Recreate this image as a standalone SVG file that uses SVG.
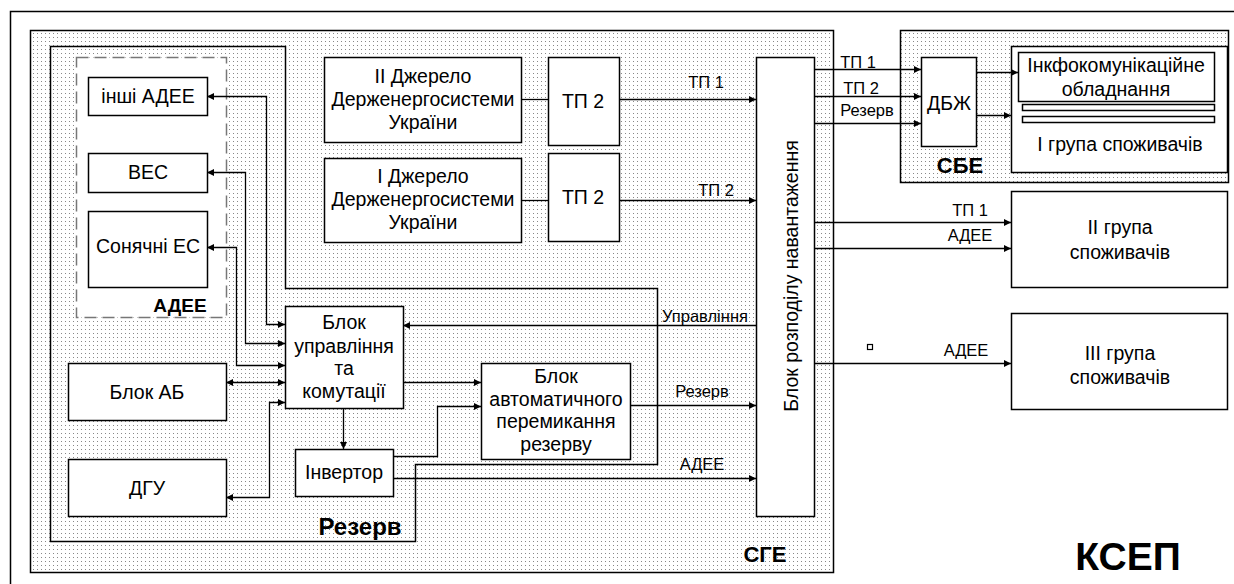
<svg xmlns="http://www.w3.org/2000/svg" width="1234" height="584" viewBox="0 0 1234 584">
<defs>
<pattern id="dots" width="4" height="4" patternUnits="userSpaceOnUse"><rect width="4" height="4" fill="#fff"/><rect x="1" y="1" width="1" height="1" fill="#888"/></pattern>
<marker id="arr" viewBox="0 0 10 10" refX="10" refY="5" markerWidth="11" markerHeight="7" markerUnits="userSpaceOnUse" orient="auto-start-reverse"><path d="M0,0 L10,5 L0,10 z" fill="#000"/></marker>
<style>
text{font-family:"Liberation Sans",Arial,sans-serif;fill:#000}
.box{fill:#fff;stroke:#000;stroke-width:1.5}
.t{font-size:19.5px;text-anchor:middle}
.l{font-size:16.5px;text-anchor:middle}
.b{font-weight:bold}
.c{fill:none;stroke:#000;stroke-width:1.3}
.a{marker-end:url(#arr)}
.aa{marker-start:url(#arr);marker-end:url(#arr)}
</style>
</defs>
<rect x="10.5" y="11.5" width="1240" height="590" fill="#fff" stroke="#000" stroke-width="1.5"/>
<g id="sge">
<rect x="30.5" y="30.5" width="803" height="542" fill="url(#dots)" stroke="#000" stroke-width="1.5"/>
<text x="765" y="562" class="b" font-size="22" text-anchor="middle">СГЕ</text>
</g>
<g id="sbe">
<rect x="900.5" y="30.5" width="328" height="152" fill="url(#dots)" stroke="#000" stroke-width="1.5"/>
<text x="960" y="173" class="b" font-size="22" text-anchor="middle">СБЕ</text>
</g>
<g id="rezerv">
<path d="M50.5,46.5 H285.5 V288.5 H657.5 V464.5 H415.5 V541.5 H50.5 Z" fill="none" stroke="#000" stroke-width="1.5"/>
<text x="360" y="535" class="b" font-size="24" text-anchor="middle">Резерв</text>
</g>
<g id="adee">
<rect x="76.5" y="57.5" width="150" height="260" fill="#fff" stroke="#777" stroke-width="1.5" stroke-dasharray="12,6"/>
<text x="180" y="312" class="b" font-size="19" text-anchor="middle">АДЕЕ</text>
</g>
<g id="inshi"><rect class="box" x="88.5" y="77.5" width="119" height="38"/><text class="t" x="148" y="103">інші АДЕЕ</text></g>
<g id="ves"><rect class="box" x="88.5" y="153.5" width="119" height="39"/><text class="t" x="148" y="179">ВЕС</text></g>
<g id="sonyachni"><rect class="box" x="88.5" y="211.5" width="119" height="76"/><text class="t" x="148" y="253">Сонячні ЕС</text></g>
<g id="blok-ab"><rect class="box" x="68.5" y="363.5" width="158" height="57"/><text class="t" x="147" y="399">Блок АБ</text></g>
<g id="dgu"><rect class="box" x="68.5" y="459.5" width="158" height="57"/><text class="t" x="147" y="495">ДГУ</text></g>
<g id="dzherelo2"><rect class="box" x="324.5" y="57.5" width="197" height="85"/><text class="t" x="423" y="83">II Джерело</text><text class="t" x="423" y="106">Держенергосистеми</text><text class="t" x="423" y="129">України</text></g>
<g id="dzherelo1"><rect class="box" x="324.5" y="158.5" width="197" height="84"/><text class="t" x="423" y="183">I Джерело</text><text class="t" x="423" y="206">Держенергосистеми</text><text class="t" x="423" y="229">України</text></g>
<g id="tp2a"><rect class="box" x="548.5" y="57.5" width="71" height="88"/><text class="t" x="583" y="108" font-size="17">ТП 2</text></g>
<g id="tp2b"><rect class="box" x="548.5" y="153.5" width="71" height="88"/><text class="t" x="583" y="204" font-size="17">ТП 2</text></g>
<g id="upravl"><rect class="box" x="285.5" y="306.5" width="118" height="102"/><text class="t" x="344" y="329">Блок</text><text class="t" x="344" y="353">управління</text><text class="t" x="344" y="375">та</text><text class="t" x="344" y="398">комутації</text></g>
<g id="invertor"><rect class="box" x="295.5" y="449.5" width="98" height="47"/><text class="t" x="344" y="479">Інвертор</text></g>
<g id="avr"><rect class="box" x="481.5" y="363.5" width="149" height="96"/><text class="t" x="556" y="383">Блок</text><text class="t" x="556" y="406">автоматичного</text><text class="t" x="556" y="428">перемикання</text><text class="t" x="556" y="451">резерву</text></g>
<g id="rozpodil"><rect class="box" x="756.5" y="57.5" width="58" height="459"/><text class="t" x="798" y="276" transform="rotate(-90 798 276)">Блок розподілу навантаження</text></g>
<g id="dbzh"><rect class="box" x="921.5" y="57.5" width="55" height="89"/><text class="t" x="949" y="110" font-size="21">ДБЖ</text></g>
<g id="grupa1"><rect class="box" x="1011.5" y="46.5" width="216" height="126"/>
<rect class="box" x="1018.5" y="52.5" width="196" height="49"/><text class="t" x="1116" y="72" font-size="18.5">Інкфокомунікаційне</text><text class="t" x="1116" y="96">обладнання</text>
<rect class="box" x="1022.5" y="104.5" width="192" height="6" stroke-width="1.2"/><rect class="box" x="1022.5" y="116.5" width="192" height="6" stroke-width="1.2"/>
<text class="t" x="1120" y="151">I група споживачів</text></g>
<g id="grupa2"><rect class="box" x="1011.5" y="191.5" width="216" height="96"/><text class="t" x="1120" y="234">II група</text><text class="t" x="1120" y="259">споживачів</text></g>
<g id="grupa3"><rect class="box" x="1011.5" y="313.5" width="216" height="96"/><text class="t" x="1120" y="360">III група</text><text class="t" x="1120" y="384">споживачів</text></g>
<g id="connectors">
<path class="c" d="M521,99.5 H548"/>
<path class="c" d="M521,200.5 H548"/>
<path class="c a" d="M619,99.5 H756"/>
<path class="c a" d="M619,200.5 H756"/>
<path class="c a" d="M756,325.5 H403"/>
<path class="c a" d="M403,382.5 H481"/>
<path class="c a" d="M393,456.5 H437.5 V406.5 H481"/>
<path class="c a" d="M393,478.5 H756"/>
<path class="c a" d="M630,405.5 H756"/>
<path class="c a" d="M343.5,408 V449"/>
<path class="c aa" d="M285,324.5 H266.5 V96.5 H207"/>
<path class="c aa" d="M285,343.5 H245.5 V172.5 H207"/>
<path class="c aa" d="M285,365.5 H236.5 V247.5 H207"/>
<path class="c aa" d="M226,382.5 H285"/>
<path class="c aa" d="M285,402.5 H269.5 V497.5 H226"/>
<path class="c a" d="M814,69.5 H921"/>
<path class="c a" d="M814,96.5 H921"/>
<path class="c a" d="M814,123.5 H921"/>
<path class="c a" d="M976,72.5 H1018"/>
<path class="c a" d="M976,115.5 H1011"/>
<path class="c a" d="M814,222.5 H1011"/>
<path class="c a" d="M814,248.5 H1011"/>
<path class="c a" d="M814,363.5 H1011"/>
<rect x="867.5" y="344.5" width="5" height="5" fill="#fff" stroke="#000" stroke-width="1.2"/>
<text class="l" x="706" y="88">ТП 1</text>
<text class="l" x="716" y="196">ТП 2</text>
<text class="l" x="705" y="322">Управління</text>
<text class="l" x="702" y="397">Резерв</text>
<text class="l" x="702" y="470">АДЕЕ</text>
<text class="l" x="858" y="68">ТП 1</text>
<text class="l" x="861" y="94">ТП 2</text>
<text class="l" x="867" y="116" font-size="15">Резерв</text>
<text class="l" x="970" y="216">ТП 1</text>
<text class="l" x="970" y="241">АДЕЕ</text>
<text class="l" x="966" y="356">АДЕЕ</text>
</g>
<text x="1128" y="570" class="b" font-size="39" text-anchor="middle">КСЕП</text>
</svg>
